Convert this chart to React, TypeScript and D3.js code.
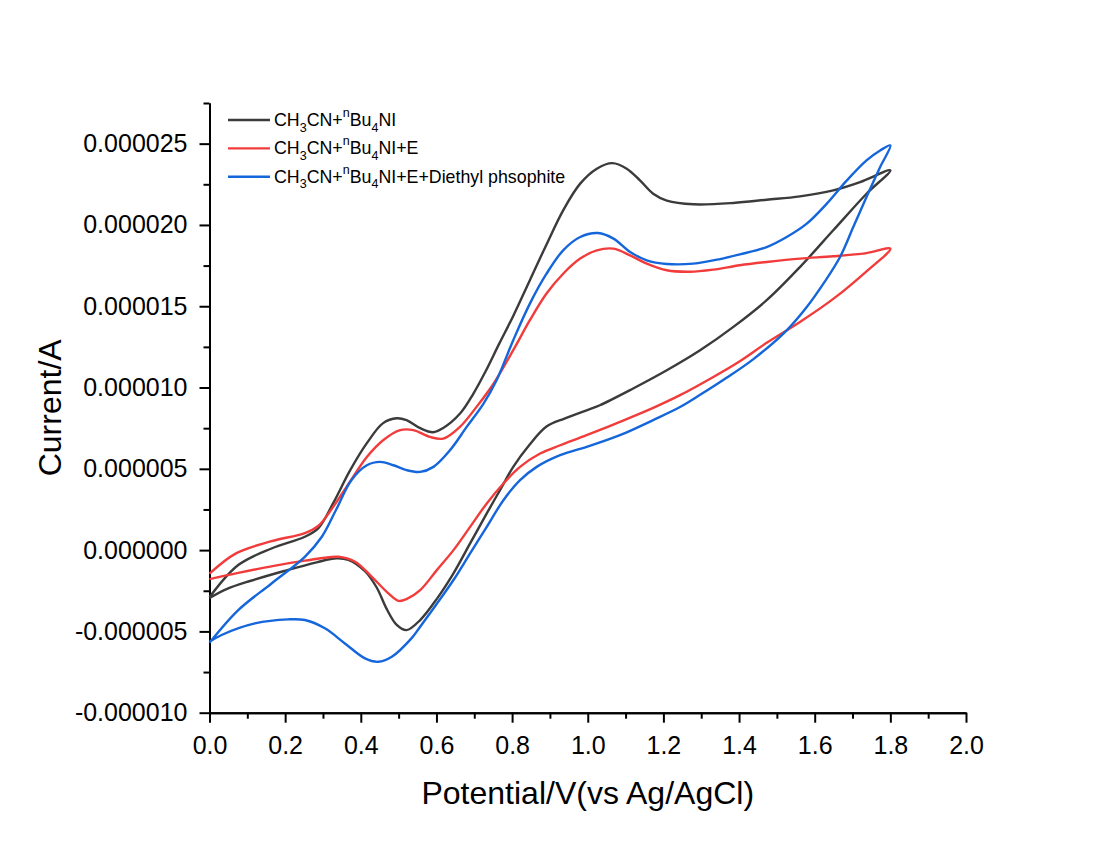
import React, { useEffect, useRef } from "react";
import * as d3 from "d3";

// cyclic voltammograms: [potential (V), current (µA)], forward scan to 1.8 V and back
const blankScan: [number, number][] = [
  [0, -2.9], [0.076, -0.92], [0.164, 0.1], [0.252, 0.82], [0.288, 1.35], [0.327, 2.89],
  [0.372, 4.92], [0.416, 6.58], [0.459, 7.81], [0.495, 8.11], [0.521, 7.99], [0.557, 7.5],
  [0.591, 7.25], [0.617, 7.5], [0.663, 8.42], [0.697, 9.6], [0.73, 11.0], [0.766, 12.7],
  [0.803, 14.4], [0.847, 16.6], [0.891, 18.8], [0.935, 20.9], [0.98, 22.54], [1.024, 23.46],
  [1.065, 23.8], [1.103, 23.46], [1.138, 22.74], [1.173, 21.92], [1.209, 21.5], [1.279, 21.27],
  [1.385, 21.35], [1.473, 21.55], [1.561, 21.76], [1.649, 22.13], [1.72, 22.64], [1.8, 23.36],
  [1.737, 21.92], [1.649, 19.67], [1.561, 17.41], [1.473, 15.37], [1.385, 13.73], [1.297, 12.29],
  [1.209, 11.06], [1.12, 9.94], [1.032, 8.91], [0.997, 8.6], [0.94, 8.1], [0.891, 7.6],
  [0.845, 6.45], [0.803, 5.12], [0.768, 3.69], [0.733, 2.26], [0.689, 0.41], [0.645, -1.43],
  [0.601, -3.0], [0.557, -4.3], [0.521, -4.92], [0.495, -4.6], [0.468, -3.6], [0.442, -2.3],
  [0.411, -1.3], [0.367, -0.6], [0.336, -0.5], [0.283, -0.75], [0.195, -1.3], [0.107, -1.9],
  [0.045, -2.4], [0, -2.95],
];

const withEScan: [number, number][] = [
  [0, -1.45], [0.07, -0.2], [0.164, 0.55], [0.252, 1.05], [0.288, 1.5], [0.327, 2.66],
  [0.371, 4.2], [0.416, 5.73], [0.459, 6.76], [0.504, 7.38], [0.539, 7.38], [0.583, 6.96],
  [0.618, 6.86], [0.662, 7.58], [0.706, 8.81], [0.75, 10.2], [0.803, 12.3], [0.847, 14.14],
  [0.891, 15.78], [0.935, 17.0], [0.98, 17.93], [1.024, 18.44], [1.068, 18.54], [1.112, 18.13],
  [1.156, 17.62], [1.209, 17.21], [1.27, 17.12], [1.332, 17.25], [1.402, 17.52], [1.473, 17.72],
  [1.561, 17.93], [1.649, 18.07], [1.737, 18.27], [1.8, 18.54],
  [1.737, 17.15], [1.649, 15.45], [1.561, 14.03], [1.473, 12.75], [1.402, 11.62], [1.332, 10.65],
  [1.244, 9.53], [1.173, 8.75], [1.085, 7.89], [0.997, 7.07], [0.927, 6.45], [0.874, 5.94],
  [0.821, 5.12], [0.777, 4.1], [0.733, 2.87], [0.689, 1.43], [0.645, 0], [0.601, -1.23],
  [0.557, -2.46], [0.522, -3.0], [0.5, -3.12], [0.473, -2.66], [0.429, -1.64], [0.385, -0.72],
  [0.341, -0.41], [0.252, -0.65], [0.164, -1.0], [0.076, -1.4], [0, -1.78],
];

const withPhosphiteScan: [number, number][] = [
  [0, -5.7], [0.076, -3.69], [0.164, -2.05], [0.252, -0.41], [0.297, 0.82], [0.335, 2.5],
  [0.375, 4.3], [0.416, 5.22], [0.451, 5.43], [0.486, 5.22], [0.521, 4.92], [0.557, 4.81],
  [0.592, 5.12], [0.636, 6.15], [0.68, 7.58], [0.724, 9.0], [0.759, 10.45], [0.803, 12.91],
  [0.847, 15.16], [0.891, 17.0], [0.935, 18.44], [0.98, 19.26], [1.027, 19.5], [1.068, 19.16],
  [1.112, 18.34], [1.156, 17.82], [1.209, 17.6], [1.279, 17.62], [1.35, 17.9], [1.402, 18.19],
  [1.473, 18.64], [1.526, 19.26], [1.579, 20.08], [1.632, 21.31], [1.685, 22.74], [1.737, 23.97],
  [1.773, 24.58], [1.8, 24.89],
  [1.773, 23.56], [1.737, 21.72], [1.702, 19.87], [1.667, 18.03], [1.623, 16.39], [1.579, 14.95],
  [1.526, 13.52], [1.438, 11.75], [1.367, 10.6], [1.297, 9.55], [1.244, 8.8], [1.173, 8.0],
  [1.085, 7.07], [0.997, 6.35], [0.927, 5.84], [0.865, 5.12], [0.821, 4.3], [0.777, 3.07],
  [0.733, 1.43], [0.689, -0.2], [0.645, -1.84], [0.601, -3.3], [0.557, -4.71], [0.535, -5.4],
  [0.482, -6.56], [0.446, -6.87], [0.411, -6.66], [0.358, -5.74], [0.305, -4.81], [0.252, -4.3],
  [0.208, -4.26], [0.12, -4.51], [0.032, -5.22], [0, -5.64],
];

const scans = [blankScan, withEScan, withPhosphiteScan];
const seriesColors = ["#3b3b3b", "#f23c3c", "#1466da"];
// text after "CH3CN+nBu4NI" in each legend entry
const legendSuffix = ["", "+E", "+E+Diethyl phsophite"];

const xMajorTicks = [0, 0.2, 0.4, 0.6, 0.8, 1.0, 1.2, 1.4, 1.6, 1.8, 2.0];
const xMinorTicks = [0.1, 0.3, 0.5, 0.7, 0.9, 1.1, 1.3, 1.5, 1.7, 1.9];
const yMajorTicks = [-10, -5, 0, 5, 10, 15, 20, 25];
const yMinorTicks = [-7.5, -2.5, 2.5, 7.5, 12.5, 17.5, 22.5, 27.5];

const FONT = "'Liberation Sans', Arial, sans-serif";

const App = () => {
  const ref = useRef<SVGSVGElement>(null);

  useEffect(() => {
    const svg = d3.select(ref.current);
    svg.selectAll("*").remove();

    const x = d3.scaleLinear().domain([0, 2]).range([209.5, 966]);
    const y = d3.scaleLinear().domain([-10, 27.5]).range([712.7, 103]);

    // minor ticks first, then major axis with labels
    const xMinor = svg.append("g").attr("transform", `translate(0,${y(-10)})`)
      .call(d3.axisBottom(x).tickValues(xMinorTicks).tickSize(6).tickSizeOuter(0).tickFormat(() => ""));
    const xAxis = svg.append("g").attr("transform", `translate(0,${y(-10)})`)
      .call(d3.axisBottom(x).tickValues(xMajorTicks).tickSize(10).tickSizeOuter(0).tickPadding(14)
        .tickFormat((d) => (+d).toFixed(1)));
    const yMinor = svg.append("g").attr("transform", `translate(${x(0)},0)`)
      .call(d3.axisLeft(y).tickValues(yMinorTicks).tickSize(6).tickSizeOuter(0).tickFormat(() => ""));
    const yAxis = svg.append("g").attr("transform", `translate(${x(0)},0)`)
      .call(d3.axisLeft(y).tickValues(yMajorTicks).tickSize(10).tickSizeOuter(0).tickPadding(12)
        .tickFormat((d) => (+d * 1e-6).toFixed(6)));

    [xMinor, xAxis, yMinor, yAxis].forEach((g) => {
      g.selectAll("path, line").attr("stroke", "#000").attr("stroke-width", 2);
      g.selectAll("text").attr("fill", "#000").style("font-family", FONT).style("font-size", "25px");
    });

    // axis titles
    svg.append("text")
      .attr("x", (x(0) + x(2)) / 2).attr("y", 804)
      .attr("text-anchor", "middle")
      .style("font-family", FONT).style("font-size", "32px")
      .text("Potential/V(vs Ag/AgCl)");
    svg.append("text")
      .attr("transform", `translate(61,${(y(-10) + y(27.5)) / 2}) rotate(-90)`)
      .attr("text-anchor", "middle")
      .style("font-family", FONT).style("font-size", "32px")
      .text("Current/A");

    // curves
    const line = d3.line<[number, number]>()
      .x((d) => x(d[0]))
      .y((d) => y(d[1]))
      .curve(d3.curveCatmullRom.alpha(0.5));

    scans.forEach((scan, i) => {
      svg.append("path")
        .datum(scan)
        .attr("d", line)
        .attr("fill", "none")
        .attr("stroke", seriesColors[i])
        .attr("stroke-width", 2.4)
        .attr("stroke-linejoin", "round");
    });

    // legend
    const legend = svg.append("g").attr("transform", "translate(228,120)");
    legendSuffix.forEach((suffix, i) => {
      const row = legend.append("g").attr("transform", `translate(0,${i * 28.4})`);
      row.append("line")
        .attr("x1", 0).attr("x2", 42).attr("y1", 0).attr("y2", 0)
        .attr("stroke", seriesColors[i]).attr("stroke-width", 2.4);
      const t = row.append("text")
        .attr("x", 46).attr("y", 6)
        .style("font-family", FONT).style("font-size", "17.8px");
      t.append("tspan").text("CH");
      t.append("tspan").attr("dy", 5.5).style("font-size", "12.5px").text("3");
      t.append("tspan").attr("dy", -5.5).text("CN+");
      t.append("tspan").attr("dy", -9).style("font-size", "12.5px").text("n");
      t.append("tspan").attr("dy", 9).text("Bu");
      t.append("tspan").attr("dy", 5.5).style("font-size", "12.5px").text("4");
      t.append("tspan").attr("dy", -5.5).text("NI" + suffix);
    });
  }, []);

  return (
    <div style={{ position: "absolute", left: 0, top: 0 }}>
      <svg ref={ref} width={1105} height={844} style={{ display: "block", background: "#fff" }}></svg>
    </div>
  );
};

export default App;
